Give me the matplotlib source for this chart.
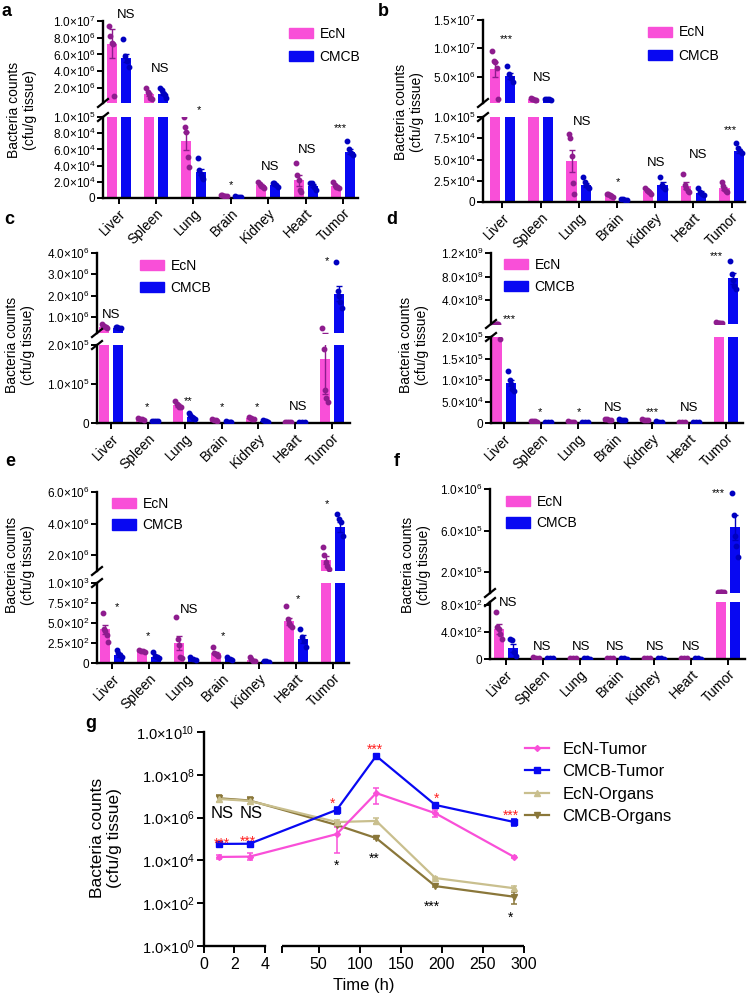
import numpy as np
import matplotlib
matplotlib.use('Agg')
import matplotlib.pyplot as plt
import matplotlib.transforms as mtransforms
from matplotlib.patches import Patch
from matplotlib.lines import Line2D
from matplotlib.ticker import NullLocator

plt.rcParams['font.family'] = ['Liberation Sans', 'DejaVu Sans']
plt.rcParams['mathtext.fontset'] = 'custom'
plt.rcParams['mathtext.rm'] = 'Liberation Sans'
plt.rcParams['mathtext.it'] = 'Liberation Sans'
plt.rcParams['mathtext.default'] = 'regular'

# ---------------- data ----------------
organs = ['Liver', 'Spleen', 'Lung', 'Brain', 'Kidney', 'Heart', 'Tumor']

# panel a
a_ecn_mean = [7.3e6, 1.2e6, 7.0e4, 3.0e3, 1.6e4, 2.2e4, 1.5e4]
a_ecn_sem = [1.7e6, 0.2e6, 1.1e4, 0.5e3, 1.5e3, 7.0e3, 1.5e3]
a_ecn_pts = [[9.4e6, 8.2e6, 7.4e6, 7.3e6, 1.0e6], [2.0e6, 1.5e6, 1.2e6, 0.8e6, 0.7e6],
             [1.0e5, 8.8e4, 8.1e4, 5.1e4, 3.8e4], [4.0e3, 3.5e3, 3.0e3, 2.5e3, 2.0e3],
             [2.0e4, 1.7e4, 1.5e4, 1.4e4, 1.2e4], [4.3e4, 2.8e4, 2.2e4, 1.0e4, 0.7e4],
             [2.0e4, 1.6e4, 1.4e4, 1.3e4, 1.2e4]]
a_cmcb_mean = [5.6e6, 1.3e6, 3.2e4, 1.5e3, 1.6e4, 1.5e4, 5.7e4]
a_cmcb_sem = [0.5e6, 0.2e6, 4.0e3, 0.3e3, 1.2e3, 2.0e3, 3.0e3]
a_cmcb_pts = [[7.8e6, 5.8e6, 5.2e6, 4.5e6], [2.0e6, 1.7e6, 1.4e6, 1.1e6, 0.8e6],
              [4.9e4, 3.4e4, 3.0e4, 2.6e4, 2.3e4], [2.2e3, 1.5e3, 1.2e3, 1.0e3],
              [1.9e4, 1.8e4, 1.6e4, 1.3e4], [1.9e4, 1.8e4, 1.3e4, 1.0e4],
              [7.0e4, 6.0e4, 5.5e4, 5.3e4]]

# panel b
b_ecn_mean = [6.3e6, 1.0e6, 4.8e4, 8.0e3, 1.3e4, 1.9e4, 1.6e4]
b_ecn_sem = [1.3e6, 0.1e6, 1.3e4, 1.0e3, 1.5e3, 4.0e3, 2.0e3]
b_ecn_pts = [[9.5e6, 7.7e6, 7.5e6, 6.6e6, 1.1e6], [1.2e6, 1.1e6, 1.0e6, 0.9e6, 0.8e6],
             [8.0e4, 7.5e4, 5.4e4, 2.2e4, 1.0e4], [1.0e4, 9.0e3, 8.0e3, 7.0e3, 6.0e3],
             [1.6e4, 1.4e4, 1.3e4, 1.2e4, 1.0e4], [3.3e4, 2.0e4, 1.6e4, 1.3e4, 1.2e4],
             [2.3e4, 1.9e4, 1.5e4, 1.3e4, 1.2e4]]
b_cmcb_mean = [5.1e6, 1.0e6, 2.0e4, 3.0e3, 2.0e4, 1.1e4, 6.0e4]
b_cmcb_sem = [0.5e6, 0.05e6, 2.5e3, 0.5e3, 3.0e3, 1.5e3, 2.5e3]
b_cmcb_pts = [[6.8e6, 5.5e6, 4.8e6, 4.0e6], [1.1e6, 1.05e6, 1.0e6, 0.95e6],
              [3.0e4, 2.3e4, 2.0e4, 1.8e4, 1.6e4], [4.0e3, 3.0e3, 2.5e3, 2.0e3],
              [3.0e4, 2.0e4, 1.8e4, 1.5e4], [1.6e4, 1.2e4, 1.0e4, 0.8e4],
              [7.0e4, 6.4e4, 6.0e4, 5.8e4]]

# panel c
c_ecn_mean = [5.5e5, 1.0e4, 4.5e4, 8.0e3, 1.2e4, 2.0e3, 1.65e5]
c_ecn_sem = [3.0e4, 1.0e3, 3.0e3, 1.0e3, 2.0e3, 5.0e2, 0.9e5]
c_ecn_pts = [[6.5e5, 6.0e5, 5.6e5, 5.3e5, 5.0e5], [1.2e4, 1.0e4, 9.0e3, 8.0e3],
             [5.6e4, 4.8e4, 4.5e4, 4.2e4, 4.0e4], [1.0e4, 8.0e3, 7.0e3, 6.0e3],
             [1.6e4, 1.3e4, 1.1e4, 1.0e4], [3.0e3, 2.0e3, 2.0e3, 1.5e3],
             [4.7e5, 1.9e5, 8.5e4, 6.5e4, 5.5e4]]
c_cmcb_mean = [5.0e5, 5.0e3, 1.5e4, 3.0e3, 5.0e3, 2.0e3, 2.1e6]
c_cmcb_sem = [2.0e4, 5.0e2, 3.0e3, 5.0e2, 1.0e3, 5.0e2, 3.5e5]
c_cmcb_pts = [[5.4e5, 5.1e5, 4.9e5, 4.7e5], [6.0e3, 5.0e3, 4.5e3, 4.0e3],
              [2.5e4, 2.0e4, 1.5e4, 1.2e4, 1.0e4], [4.0e3, 3.0e3, 2.5e3, 2.0e3],
              [7.0e3, 5.0e3, 4.0e3, 3.5e3], [2.5e3, 2.0e3, 1.5e3],
              [3.6e6, 2.2e6, 2.0e6, 1.7e6, 1.4e6]]

# panel d
d_ecn_mean = [4.0e6, 4.0e3, 3.0e3, 8.0e3, 7.0e3, 2.0e3, 2.0e7]
d_ecn_sem = [1.0e6, 5.0e2, 5.0e2, 1.0e3, 1.0e3, 3.0e2, 3.0e6]
d_ecn_pts = [[6.0e6, 5.5e6, 5.0e6, 4.0e6, 1.95e5], [5.0e3, 4.0e3, 3.5e3, 3.0e3],
             [4.0e3, 3.0e3, 2.5e3, 2.0e3], [1.0e4, 9.0e3, 8.0e3, 7.0e3],
             [9.0e3, 8.0e3, 7.0e3, 6.0e3], [3.0e3, 2.0e3, 1.5e3],
             [3.0e7, 2.5e7, 2.0e7, 1.5e7, 1.0e7]]
d_cmcb_mean = [9.3e4, 2.0e3, 2.0e3, 8.0e3, 3.0e3, 2.0e3, 7.7e8]
d_cmcb_sem = [8.0e3, 3.0e2, 3.0e2, 1.0e3, 5.0e2, 3.0e2, 9.0e7]
d_cmcb_pts = [[1.2e5, 1.0e5, 9.0e4, 8.0e4, 7.5e4], [3.0e3, 2.0e3, 1.5e3],
              [3.0e3, 2.0e3, 1.5e3], [1.0e4, 8.0e3, 7.0e3, 6.0e3],
              [4.0e3, 3.0e3, 2.5e3], [3.0e3, 2.0e3, 1.5e3],
              [1.07e9, 8.5e8, 7.5e8, 6.5e8, 6.0e8]]

# panel e
e_ecn_mean = [4.2e2, 1.5e2, 2.5e2, 1.2e2, 0.4e2, 5.2e2, 1.7e6]
e_ecn_sem = [0.6e2, 0.05e2, 0.9e2, 0.2e2, 0.15e2, 0.4e2, 0.25e6]
e_ecn_pts = [[6.3e2, 4.2e2, 4.0e2, 3.5e2, 2.6e2], [1.6e2, 1.5e2, 1.45e2, 1.4e2],
             [5.8e2, 3.0e2, 2.3e2, 0.8e2, 0.6e2], [2.0e2, 1.2e2, 1.1e2, 1.0e2, 0.9e2],
             [0.8e2, 0.5e2, 0.3e2, 0.2e2], [7.1e2, 5.5e2, 5.0e2, 4.8e2, 4.5e2],
             [2.5e6, 2.0e6, 1.6e6, 1.3e6, 1.1e6]]
e_cmcb_mean = [1.0e2, 0.8e2, 0.5e2, 0.5e2, 0.2e2, 3.0e2, 3.8e6]
e_cmcb_sem = [0.2e2, 0.15e2, 0.1e2, 0.1e2, 0.05e2, 0.45e2, 0.3e6]
e_cmcb_pts = [[1.6e2, 1.2e2, 1.0e2, 0.8e2], [1.35e2, 0.9e2, 0.7e2, 0.6e2],
              [0.7e2, 0.5e2, 0.4e2], [0.7e2, 0.5e2, 0.4e2], [0.3e2, 0.2e2, 0.15e2],
              [4.2e2, 3.3e2, 2.8e2, 2.0e2], [4.6e6, 4.3e6, 4.1e6, 3.2e6]]

# panel f
f_ecn_mean = [4.5e2, 20, 10, 10, 10, 10, 1.0e4]
f_ecn_sem = [0.7e2, 5, 2, 2, 2, 2, 5.0e2]
f_ecn_pts = [[7.0e2, 4.8e2, 4.5e2, 3.8e2, 3.0e2], [25, 20, 15], [12, 10, 8],
             [12, 10, 8], [12, 10, 8], [12, 10, 8], [1.1e4, 1.05e4, 1.0e4, 9.5e3, 9.0e3]]
f_cmcb_mean = [1.7e2, 15, 8, 8, 8, 8, 6.3e5]
f_cmcb_sem = [0.6e2, 3, 2, 2, 2, 2, 1.2e5]
f_cmcb_pts = [[3.0e2, 2.9e2, 1.0e2, 0.5e2], [20, 15, 10], [10, 8, 6], [10, 8, 6],
              [10, 8, 6], [10, 8, 6], [9.6e5, 7.5e5, 5.5e5, 4.5e5, 3.5e5]]

# panel g (time course)
t_hours = [1, 3, 72, 120, 192, 288]
ecn_tumor = [1.45e4, 1.5e4, 1.7e5, 1.4e7, 1.6e6, 1.45e4]
ecn_tumor_lo = [1.2e4, 1.0e4, 2.2e4, 4.4e6, 1.1e6, 1.3e4]
ecn_tumor_hi = [1.7e4, 2.2e4, 3.6e5, 2.4e7, 2.2e6, 1.6e4]
cmcb_tumor = [5.9e4, 6.0e4, 2.3e6, 7.6e8, 3.9e6, 6.2e5]
cmcb_tumor_lo = [5.5e4, 5.5e4, 1.4e6, 6.5e8, 3.3e6, 4.2e5]
cmcb_tumor_hi = [6.3e4, 6.5e4, 3.3e6, 8.5e8, 4.5e6, 8.8e5]
ecn_organs = [7.4e6, 6.0e6, 6.2e5, 7.0e5, 1.5e3, 5.0e2]
ecn_organs_lo = [5.5e6, 4.5e6, 5.0e5, 5.0e5, 1.3e3, 3.8e2]
ecn_organs_hi = [1.0e7, 8.0e6, 7.8e5, 9.8e5, 1.7e3, 6.5e2]
cmcb_organs = [8.0e6, 6.3e6, 4.5e5, 1.1e5, 6.3e2, 2.0e2]
cmcb_organs_lo = [5.5e6, 4.5e6, 4.0e5, 1.0e5, 5.5e2, 9.0e1]
cmcb_organs_hi = [1.2e7, 9.0e6, 5.0e5, 1.2e5, 7.0e2, 3.2e2]
g_series = ['EcN-Tumor', 'CMCB-Tumor', 'EcN-Organs', 'CMCB-Organs']

# ---------------- style / layout ----------------
W, H = 752, 999
PINK = '#F94FD8'
BLUE = '#0808F2'
PINK_DOT = '#8E1C8E'
BLUE_DOT = '#0000C0'
RED = '#FF2020'
KHAKI = '#C9BF8E'
OLIVE = '#8A773A'
LW = 1.7

fig = plt.figure(figsize=(W / 100, H / 100), dpi=100)


def rect(x0, y0, x1, y1):
    return [x0 / W, 1 - y1 / H, (x1 - x0) / W, (y1 - y0) / H]


def sci_label(v):
    if v == 0:
        return '0'
    e = int(np.floor(np.log10(v) + 1e-9))
    m = v / 10 ** e
    return f'{m:.1f}×10$^{{{e}}}$'


def brk(xp, yp):
    fig.add_artist(Line2D([(xp - 5) / W, (xp + 5) / W], [1 - (yp + 4) / H, 1 - (yp - 4) / H],
                          color='k', lw=1.6))


def bar_panel(lay, ecn_m, ecn_s, ecn_p, cm_m, cm_s, cm_p, notes):
    x0, x1 = lay['x']
    ax_t = fig.add_axes(rect(x0, lay['top'][0], x1, lay['top'][1]))
    ax_b = fig.add_axes(rect(x0, lay['bot'][0], x1, lay['bot'][1]))
    ax_t.set_ylim(*lay['top_lim'])
    ax_b.set_ylim(*lay['bot_lim'])
    split = lay['bot_lim'][1]   # values above this belong to the upper segment
    xs = np.arange(len(organs))
    off, wd = 0.19, 0.27
    groups = [(-off, ecn_m, ecn_s, ecn_p, PINK, PINK_DOT),
              (off, cm_m, cm_s, cm_p, BLUE, BLUE_DOT)]
    for ax, upper in ((ax_t, True), (ax_b, False)):
        for dx, m, s, p, col, dcol in groups:
            m = np.array(m)
            s = np.array(s)
            keep = m > split if upper else np.ones(len(m), bool)
            ax.bar(xs[keep] + dx, m[keep], wd, color=col, zorder=1)
            ekeep = (m + s > split) if upper else (m - s < split)
            ax.errorbar(xs[ekeep] + dx, m[ekeep], yerr=s[ekeep], fmt='none', ecolor=dcol,
                        elinewidth=1, capsize=2.5, capthick=1, zorder=2)
            for i in range(len(organs)):
                pts = np.array(p[i])
                jit = np.linspace(-0.075, 0.075, len(pts))
                pk = pts > split if upper else pts <= split
                ax.plot(xs[i] + dx + jit[pk], pts[pk], 'o', ms=3.2, color=dcol, zorder=3)
        ax.set_xlim(*lay['xlim'])
        for s_ in ('top', 'right'):
            ax.spines[s_].set_visible(False)
        ax.spines['left'].set_linewidth(LW)
        ax.spines['bottom'].set_linewidth(LW)
        ax.tick_params(axis='y', direction='out', length=4, width=1.4, labelsize=8.5, pad=1.5)
    ax_t.set_ylim(*lay['top_lim'])
    ax_b.set_ylim(*lay['bot_lim'])
    ax_t.spines['bottom'].set_visible(False)
    ax_t.set_xticks([])
    ax_t.set_yticks(lay['top_ticks'])
    ax_t.set_yticklabels([sci_label(v) for v in lay['top_ticks']])
    ax_b.set_yticks(lay['bot_ticks'])
    ax_b.set_yticklabels([sci_label(v) for v in lay['bot_ticks']])
    ax_b.set_xticks(xs)
    ax_b.set_xticklabels(organs, rotation=45, ha='right', va='top',
                         rotation_mode='anchor', fontsize=10)
    ax_b.tick_params(axis='x', direction='out', length=4, width=1.4, pad=2)
    brk(x0, lay['top'][1])
    brk(x0, lay['bot'][0])
    for seg, xc, yv, txt in notes:
        ax = ax_t if seg == 't' else ax_b
        if txt == 'NS':
            ax.text(xc, yv, txt, ha='center', va='center', fontsize=9.5, clip_on=False)
        else:
            tr = mtransforms.offset_copy(ax.transData, fig=fig, y=-3, units='points')
            ax.text(xc, yv, txt, ha='center', va='center', fontsize=8, transform=tr,
                    clip_on=False)
    lx, ly = lay['legend']
    fig.legend(handles=[Patch(color=PINK), Patch(color=BLUE)], labels=['EcN', 'CMCB'],
               loc='center left', bbox_to_anchor=(lx / W, 1 - ly / H), frameon=False,
               fontsize=10, handlelength=1.7, handleheight=0.75, handletextpad=0.5,
               labelspacing=lay['lsp'], borderpad=0, borderaxespad=0)
    yx, yy = lay['ylab']
    fig.text(yx / W, 1 - yy / H, 'Bacteria counts\n(cfu/g tissue)', rotation=90,
             ha='center', va='center', fontsize=10, multialignment='center')
    px, py = lay['label'][1]
    fig.text(px / W, 1 - py / H, lay['label'][0], fontsize=13, fontweight='bold',
             ha='left', va='center')


lay_a = dict(x=(103, 358), top=(21, 103), bot=(117, 198), top_lim=(1.8e5, 1.0e7),
             bot_lim=(0, 1.0e5), top_ticks=[2e6, 4e6, 6e6, 8e6, 1e7],
             bot_ticks=[0, 2e4, 4e4, 6e4, 8e4, 1e5], xlim=(-0.42, 6.4),
             legend=(289, 45.5), lsp=0.65, ylab=(22, 110), label=('a', (2, 11)))
lay_b = dict(x=(483, 745), top=(20, 103), bot=(117, 202), top_lim=(3.4e5, 1.5e7),
             bot_lim=(0, 1.0e5), top_ticks=[5e6, 1e7, 1.5e7],
             bot_ticks=[0, 2.5e4, 5e4, 7.5e4, 1e5], xlim=(-0.51, 6.35),
             legend=(648, 44), lsp=0.65, ylab=(409, 112), label=('b', (378, 11)))
lay_c = dict(x=(97, 350), top=(253, 333), bot=(345, 423), top_lim=(2.5e5, 4.0e6),
             bot_lim=(0, 2.0e5), top_ticks=[1e6, 2e6, 3e6, 4e6],
             bot_ticks=[0, 1e5, 2e5], xlim=(-0.39, 6.49),
             legend=(140, 277), lsp=0.55, ylab=(20, 345), label=('c', (4, 219)))
lay_d = dict(x=(491, 743), top=(253, 324), bot=(337, 423), top_lim=(0, 1.2e9),
             bot_lim=(0, 2.0e5), top_ticks=[4e8, 8e8, 1.2e9],
             bot_ticks=[0, 5e4, 1e5, 1.5e5, 2e5], xlim=(-0.35, 6.46),
             legend=(504, 276), lsp=0.55, ylab=(414, 345), label=('d', (386, 219)))
lay_e = dict(x=(97, 349), top=(492, 571), bot=(583, 663), top_lim=(1.0e6, 6.0e6),
             bot_lim=(0, 1.0e3), top_ticks=[2e6, 4e6, 6e6],
             bot_ticks=[0, 2.5e2, 5e2, 7.5e2, 1e3], xlim=(-0.42, 6.44),
             legend=(112, 514.5), lsp=0.55, ylab=(20, 565), label=('e', (5, 462)))
lay_f = dict(x=(490, 745), top=(489, 593), bot=(602, 659), top_lim=(0, 1.0e6),
             bot_lim=(0, 8.5e2), top_ticks=[2e5, 6e5, 1e6],
             bot_ticks=[0, 4e2, 8e2], xlim=(-0.43, 6.46),
             legend=(506, 512.5), lsp=0.55, ylab=(416, 565), label=('f', (394, 462)))

notes_a = [('t', 0.2, 1.07e7, 'NS'), ('t', 1.1, 4.25e6, 'NS'), ('b', 2.15, 1.135e5, '*'),
           ('b', 3.0, 2.1e4, '*'), ('b', 4.04, 3.8e4, 'NS'), ('b', 5.05, 5.9e4, 'NS'),
           ('b', 5.93, 9.1e4, '***')]
notes_b = [('t', 0.09, 1.24e7, '***'), ('t', 1.03, 4.75e6, 'NS'), ('b', 2.08, 9.4e4, 'NS'),
           ('b', 3.02, 2.8e4, '*'), ('b', 4.02, 4.6e4, 'NS'), ('b', 5.12, 5.5e4, 'NS'),
           ('b', 5.96, 8.9e4, '***')]
notes_c = [('t', 0.0, 1.09e6, 'NS'), ('b', 0.97, 5.1e4, '*'), ('b', 2.08, 6.7e4, '**'),
           ('b', 3.0, 5.1e4, '*'), ('b', 3.96, 5.1e4, '*'), ('b', 5.07, 4.1e4, 'NS'),
           ('t', 5.86, 3.8e6, '*')]
notes_d = [('t', 0.14, 1.6e8, '***'), ('b', 0.97, 3.5e4, '*'), ('b', 2.03, 3.5e4, '*'),
           ('b', 2.95, 3.5e4, 'NS'), ('b', 4.0, 3.5e4, '***'), ('b', 5.0, 3.5e4, 'NS'),
           ('t', 5.73, 1.22e9, '***')]
notes_e = [('b', 0.12, 7.5e2, '*'), ('b', 0.97, 3.9e2, '*'), ('b', 2.08, 6.6e2, 'NS'),
           ('b', 3.0, 3.9e2, '*'), ('b', 5.06, 8.5e2, '*'), ('t', 5.84, 5.5e6, '*')]
notes_f = [('b', 0.05, 8.4e2, 'NS'), ('b', 0.97, 1.8e2, 'NS'), ('b', 2.03, 1.8e2, 'NS'),
           ('b', 2.95, 1.8e2, 'NS'), ('b', 4.03, 1.8e2, 'NS'), ('b', 5.0, 1.8e2, 'NS'),
           ('t', 5.73, 1.0e6, '***')]

bar_panel(lay_a, a_ecn_mean, a_ecn_sem, a_ecn_pts, a_cmcb_mean, a_cmcb_sem, a_cmcb_pts, notes_a)
bar_panel(lay_b, b_ecn_mean, b_ecn_sem, b_ecn_pts, b_cmcb_mean, b_cmcb_sem, b_cmcb_pts, notes_b)
bar_panel(lay_c, c_ecn_mean, c_ecn_sem, c_ecn_pts, c_cmcb_mean, c_cmcb_sem, c_cmcb_pts, notes_c)
bar_panel(lay_d, d_ecn_mean, d_ecn_sem, d_ecn_pts, d_cmcb_mean, d_cmcb_sem, d_cmcb_pts, notes_d)
bar_panel(lay_e, e_ecn_mean, e_ecn_sem, e_ecn_pts, e_cmcb_mean, e_cmcb_sem, e_cmcb_pts, notes_e)
bar_panel(lay_f, f_ecn_mean, f_ecn_sem, f_ecn_pts, f_cmcb_mean, f_cmcb_sem, f_cmcb_pts, notes_f)

# ---------------- panel g ----------------
ax = fig.add_axes(rect(204, 732, 524, 946))
t_knots = np.array([-1000.0, 0.0, 4.0, 5.0, 300.0, 10000.0])
p_knots = np.array([-15250.0, 0.0, 61.0, 78.0, 321.0, 8314.0])
ax.set_xscale('function', functions=(lambda t: np.interp(t, t_knots, p_knots),
                                     lambda p: np.interp(p, p_knots, t_knots)))
ax.set_yscale('log')

series = [(cmcb_organs, cmcb_organs_lo, cmcb_organs_hi, OLIVE, 'v', g_series[3]),
          (ecn_organs, ecn_organs_lo, ecn_organs_hi, KHAKI, '^', g_series[2]),
          (ecn_tumor, ecn_tumor_lo, ecn_tumor_hi, PINK, 'D', g_series[0]),
          (cmcb_tumor, cmcb_tumor_lo, cmcb_tumor_hi, BLUE, 's', g_series[1])]
handles = {}
for m, lo, hi, col, mk, name in series:
    m = np.array(m)
    yerr = [m - np.array(lo), np.array(hi) - m]
    ax.errorbar(t_hours, m, yerr=yerr, color=col, marker=mk, ms=4 if mk != 'D' else 3,
                lw=1.6, elinewidth=1.1, capsize=2, capthick=1.1)
    handles[name] = Line2D([], [], color=col, marker=mk, ms=4 if mk != 'D' else 3, lw=1.6)

ax.set_xlim(0, 300)
ax.set_ylim(1, 1e10)
yt = [1e0, 1e2, 1e4, 1e6, 1e8, 1e10]
ax.set_yticks(yt)
ax.set_yticklabels([sci_label(v) for v in yt])
ax.yaxis.set_minor_locator(NullLocator())
ax.xaxis.set_minor_locator(NullLocator())
xt = [0, 2, 4, 5, 50, 100, 150, 200, 250, 300]
ax.set_xticks(xt)
ax.set_xticklabels(['' if v == 5 else str(v) for v in xt])
for s in ('top', 'right'):
    ax.spines[s].set_visible(False)
ax.spines['left'].set_linewidth(LW)
ax.spines['bottom'].set_linewidth(LW)
ax.spines['bottom'].set_bounds(0, 4)
ax.plot([5, 300], [0, 0], transform=ax.get_xaxis_transform(), color='k', lw=LW,
        clip_on=False, solid_capstyle='butt')
ax.tick_params(axis='y', direction='out', length=5, width=1.4, labelsize=10.5, pad=2)
ax.tick_params(axis='x', direction='out', length=5, width=1.4, labelsize=11.5, pad=3)
ax.set_xlabel('Time (h)', fontsize=12, labelpad=4)
fig.text(106 / W, 1 - 838 / H, 'Bacteria counts\n(cfu/g tissue)', rotation=90,
         ha='center', va='center', fontsize=12.5, multialignment='center')

star = mtransforms.offset_copy(ax.transData, fig=fig, y=-4, units='points')
g_notes = [(1.2, 10 ** 5.05, '***', RED), (2.9, 10 ** 5.14, '***', RED),
           (67, 10 ** 6.92, '*', RED), (118, 10 ** 9.44, '***', RED),
           (194, 10 ** 7.15, '*', RED), (284, 10 ** 6.36, '***', RED),
           (72, 10 ** 4.02, '*', 'k'), (117, 10 ** 4.35, '**', 'k'),
           (188, 10 ** 2.1, '***', 'k'), (283, 10 ** 1.6, '*', 'k')]
for xv, yv, txt, col in g_notes:
    ax.text(xv, yv, txt, color=col, ha='center', va='center', fontsize=10, transform=star)
ax.text(1.18, 10 ** 6.21, 'NS', ha='center', va='center', fontsize=12)
ax.text(3.1, 10 ** 6.21, 'NS', ha='center', va='center', fontsize=12, clip_on=False)

fig.legend(handles=[handles[n] for n in g_series], labels=g_series, loc='center left',
           bbox_to_anchor=(525 / W, 1 - 783 / H), frameon=False, fontsize=12,
           handlelength=1.45, handletextpad=0.8, labelspacing=0.45, borderpad=0,
           borderaxespad=0)
fig.text(85 / W, 1 - 723 / H, 'g', fontsize=13, fontweight='bold', ha='left', va='center')

fig.savefig('out.png', dpi=100)
